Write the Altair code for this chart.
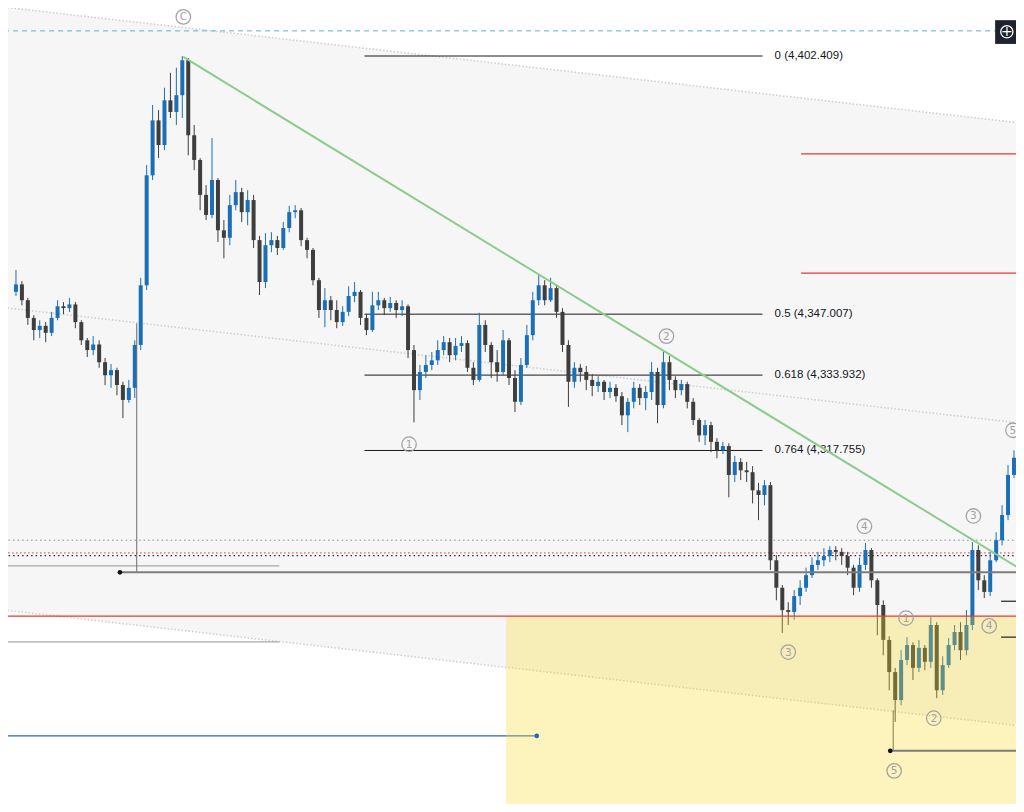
import altair as alt
import pandas as pd

# ---------------- candle data (one candle per bar) ----------------
closes = [4353.4, 4350.0, 4346.2, 4343.6, 4344.5, 4343.0, 4346.2, 4348.7, 4348.3, 4349.1,
          4345.3, 4341.4, 4339.3, 4340.5, 4336.7, 4333.9, 4335.0, 4331.8, 4328.6, 4331.2,
          4340.4, 4353.2, 4376.8, 4388.6, 4383.3, 4392.9, 4390.4, 4394.0, 4401.5, 4385.4,
          4380.1, 4372.6, 4368.3, 4375.8, 4365.0, 4363.4, 4370.4, 4373.2, 4368.9, 4371.5,
          4362.9, 4353.9, 4361.8, 4362.9, 4361.2, 4365.5, 4368.9, 4369.3, 4362.9, 4360.8,
          4354.3, 4347.9, 4350.0, 4347.9, 4345.3, 4347.5, 4350.9, 4351.8, 4346.2, 4343.6,
          4348.9, 4350.0, 4348.3, 4349.4, 4347.9, 4348.7, 4339.3, 4330.7, 4334.6, 4336.1,
          4337.1, 4339.3, 4341.0, 4338.2, 4340.2, 4340.8, 4335.5, 4332.9, 4344.7, 4340.4,
          4336.7, 4334.6, 4341.4, 4333.3, 4328.2, 4336.1, 4342.5, 4350.0, 4353.2, 4350.0,
          4352.6, 4347.5, 4340.4, 4332.5, 4335.5, 4334.6, 4332.9, 4331.6, 4332.5, 4330.3,
          4331.2, 4329.4, 4325.3, 4328.2, 4331.2, 4329.0, 4330.3, 4334.6, 4327.5, 4336.7,
          4332.9, 4330.7, 4332.0, 4328.2, 4324.3, 4321.0, 4323.2, 4319.6, 4317.8, 4318.7,
          4312.5, 4315.3, 4313.5, 4313.1, 4309.2, 4308.2, 4310.3, 4294.2, 4288.3, 4283.5,
          4283.1, 4286.5, 4288.3, 4291.0, 4293.2, 4294.2, 4295.1, 4296.4, 4296.0, 4295.1,
          4292.6, 4288.3, 4293.2, 4296.4, 4289.9, 4284.6, 4277.1, 4270.2, 4264.2, 4272.8,
          4276.0, 4271.1, 4275.4, 4272.4, 4280.3, 4266.3, 4271.7, 4276.0, 4278.8, 4274.9,
          4280.3, 4296.4, 4289.9, 4287.4, 4294.2, 4298.5, 4303.9, 4312.5, 4316.2]
highs = [4356.5, 4354.1, 4350.5, 4346.8, 4345.7, 4345.3, 4347.5, 4350.0, 4349.6, 4350.5,
         4349.6, 4345.7, 4341.9, 4342.3, 4341.4, 4337.6, 4336.3, 4335.5, 4332.5, 4332.9,
         4341.4, 4354.8, 4379.0, 4391.9, 4390.8, 4395.6, 4398.8, 4399.9, 4402.4, 4402.0,
         4387.6, 4380.5, 4374.7, 4384.8, 4376.2, 4367.2, 4372.6, 4375.8, 4374.1, 4373.6,
         4372.6, 4363.8, 4364.4, 4364.6, 4363.8, 4366.8, 4370.2, 4370.4, 4369.8, 4363.4,
         4361.2, 4354.8, 4352.6, 4350.9, 4350.0, 4348.7, 4353.0, 4353.9, 4352.2, 4347.0,
         4351.8, 4351.8, 4350.5, 4350.7, 4350.0, 4350.0, 4349.1, 4340.4, 4336.1, 4338.2,
         4338.9, 4341.4, 4342.3, 4341.9, 4341.9, 4342.3, 4341.4, 4336.7, 4347.3, 4345.7,
         4341.0, 4339.3, 4343.6, 4341.9, 4335.0, 4337.6, 4344.7, 4351.8, 4355.4, 4354.3,
         4354.8, 4353.4, 4348.3, 4341.4, 4336.7, 4336.3, 4335.9, 4334.1, 4333.7, 4332.9,
         4332.5, 4332.0, 4330.3, 4329.0, 4332.5, 4332.0, 4331.6, 4336.7, 4335.5, 4338.9,
         4338.0, 4333.7, 4332.9, 4332.5, 4329.0, 4324.7, 4324.3, 4323.9, 4320.4, 4319.6,
         4319.3, 4316.6, 4316.1, 4315.3, 4314.4, 4310.8, 4311.4, 4311.0, 4295.3, 4288.9,
         4285.2, 4287.8, 4289.9, 4292.6, 4294.8, 4296.0, 4296.8, 4297.2, 4297.2, 4296.8,
         4296.0, 4293.2, 4294.8, 4297.9, 4296.8, 4290.3, 4285.6, 4277.9, 4271.1, 4274.9,
         4277.7, 4276.6, 4277.1, 4276.0, 4282.0, 4280.9, 4273.6, 4277.5, 4280.3, 4280.9,
         4283.5, 4298.1, 4297.4, 4291.0, 4296.0, 4300.2, 4306.0, 4314.6, 4317.8]
lows = [4350.9, 4348.9, 4344.7, 4341.4, 4341.9, 4341.0, 4342.3, 4345.7, 4347.0, 4347.5,
        4344.0, 4340.4, 4337.8, 4338.2, 4335.5, 4331.8, 4331.2, 4329.6, 4324.7, 4328.0,
        4329.0, 4339.3, 4352.2, 4375.8, 4380.5, 4382.2, 4389.1, 4387.6, 4389.1, 4381.1,
        4377.9, 4369.3, 4367.2, 4367.6, 4362.5, 4359.0, 4361.8, 4369.3, 4366.8, 4366.1,
        4361.2, 4351.1, 4352.6, 4360.3, 4359.7, 4360.8, 4364.6, 4367.6, 4361.6, 4359.0,
        4353.2, 4346.2, 4344.2, 4345.7, 4344.0, 4344.5, 4346.6, 4349.6, 4344.7, 4342.5,
        4343.2, 4347.9, 4346.8, 4347.5, 4346.2, 4346.6, 4337.6, 4323.8, 4328.6, 4333.3,
        4335.0, 4336.1, 4338.2, 4336.7, 4337.1, 4338.9, 4334.6, 4331.8, 4332.5, 4338.9,
        4333.3, 4332.5, 4333.9, 4331.8, 4326.0, 4327.5, 4335.5, 4341.4, 4348.9, 4348.9,
        4349.6, 4346.2, 4338.9, 4327.1, 4331.2, 4332.5, 4330.7, 4329.4, 4330.3, 4328.6,
        4329.0, 4328.2, 4323.2, 4321.7, 4326.8, 4327.5, 4326.4, 4328.6, 4323.6, 4326.8,
        4330.7, 4329.0, 4329.6, 4326.8, 4323.2, 4319.6, 4318.9, 4317.4, 4316.1, 4317.0,
        4307.7, 4311.0, 4311.4, 4311.0, 4306.4, 4302.8, 4306.0, 4292.1, 4285.6, 4278.6,
        4280.3, 4281.4, 4284.6, 4287.4, 4290.4, 4292.1, 4292.9, 4293.8, 4294.2, 4293.2,
        4291.0, 4286.7, 4287.4, 4292.1, 4288.3, 4278.1, 4273.8, 4266.3, 4259.5, 4263.1,
        4271.7, 4268.5, 4270.2, 4270.6, 4271.1, 4264.6, 4265.3, 4271.1, 4274.9, 4272.8,
        4273.8, 4279.2, 4287.8, 4286.1, 4286.5, 4293.8, 4297.4, 4302.8, 4311.8]
first_open = 4351.8
opens = [first_open] + closes[:-1]
bars = list(range(len(closes)))

# ---------------- drawing objects ----------------
fib_levels = ["0", "0.5", "0.618", "0.764"]
fib_prices = [4402.409, 4347.007, 4333.932, 4317.755]
fib_bar_start, fib_bar_end, fib_label_bar = 58.67, 125.67, 127.7

channel_bars = [-2, 170]
channel_upper = [4412.9, 4387.9]
channel_mid = [4348.4, 4323.5]
channel_lower = [4283.5, 4258.5]

trend_bars = [28.17, 168.83]
trend_prices = [4402.2, 4292.5]

wave_labels = ["C", "1", "2", "3", "4", "1", "2", "5", "3", "4", "5"]
wave_bars = [28.17, 66.17, 109.5, 130.0, 142.83, 149.83, 154.5, 147.83, 161.17, 163.83, 167.83]
wave_prices = [4410.8, 4319.1, 4342.3, 4274.5, 4301.5, 4281.8, 4260.3, 4249.0, 4303.7, 4280.1, 4322.1]

xs = alt.Scale(domain=[-0.5, 167.5], nice=False, zero=False)
ys = alt.Scale(domain=[4241.89, 4412.71], nice=False, zero=False)


def segs(x0, x1, p0, p1, color, width, dash=None, opacity=1.0):
    df = pd.DataFrame({"x0": x0, "x1": x1, "p0": p0, "p1": p1})
    kw = dict(color=color, strokeWidth=width, clip=True, opacity=opacity)
    if dash:
        kw["strokeDash"] = dash
    return alt.Chart(df).mark_rule(**kw).encode(
        x=alt.X("x0:Q", scale=xs, axis=None),
        x2="x1:Q",
        y=alt.Y("p0:Q", scale=ys, axis=None),
        y2="p1:Q",
    )


def hlines(x0, x1, prices, color, width, dash=None, opacity=1.0):
    return segs(x0, x1, prices, prices, color, width, dash, opacity)


def dots(bx, prices, color, size=22):
    df = pd.DataFrame({"b": bx, "p": prices})
    return alt.Chart(df).mark_point(filled=True, color=color, size=size, opacity=1, clip=True).encode(
        x=alt.X("b:Q", scale=xs, axis=None), y=alt.Y("p:Q", scale=ys, axis=None))


# channel background
chan_df = pd.DataFrame({"b": channel_bars, "up": channel_upper, "lo": channel_lower})
channel_fill = alt.Chart(chan_df).mark_area(color="#f6f6f6", clip=True).encode(
    x=alt.X("b:Q", scale=xs, axis=None),
    y=alt.Y("up:Q", scale=ys, axis=None),
    y2="lo:Q",
)
chan_lines = segs([channel_bars[0]] * 3, [channel_bars[1]] * 3,
                  [channel_upper[0], channel_mid[0], channel_lower[0]],
                  [channel_upper[1], channel_mid[1], channel_lower[1]],
                  "#cfcfcf", 1.6, dash=[1.5, 2])

teal_dash = hlines([-2], [170], [4407.8], "#56b8c4", 1, dash=[5, 4])
gray_dotted = hlines([-2], [170], [4298.5], "#8a8a8a", 1, dash=[1.5, 3])
red_dotted = hlines([-2], [170], [4295.8], "#f05a5a", 1.2, dash=[1.5, 2.5])
navy_dotted = hlines([-2], [170], [4295.2], "#1e2a55", 1.2, dash=[1.5, 3])

light_gray_left = hlines([-2, -2], [44.33, 44.33], [4293.0, 4276.7], "#a8a8a8", 1.2)
fib_one = hlines([17.5], [170], [4291.605], "#7c7c7c", 2)
anchor_vert = segs([20.33], [20.33], [4345.0], [4291.605], "#6a6a6a", 1)
low_anchor = hlines([147.17], [170], [4253.3], "#7c7c7c", 2)
low_vert = segs([147.67], [147.67], [4262.0], [4253.3], "#555555", 1)
short_black = hlines([165.83, 165.83], [170, 170], [4285.4, 4277.7], "#222222", 1.2)
blue_line = hlines([-2], [87.67], [4256.5], "#2a62c9", 1.2)

red_short = hlines([132.17, 132.17], [170, 170], [4381.4, 4355.8], "#e53935", 1.2)
red_long = hlines([-2], [170], [4282.2], "#e53935", 1.3)

fib_lines = hlines([fib_bar_start] * 4, [fib_bar_end] * 4, fib_prices, "#1a1a1a", 1)
fib_df = pd.DataFrame({
    "b": [fib_label_bar] * 4,
    "p": fib_prices,
    "t": [f"{lvl} ({p:,.3f})" for lvl, p in zip(fib_levels, fib_prices)],
})
fib_text = alt.Chart(fib_df).mark_text(align="left", baseline="middle", font="Liberation Sans",
                                       fontSize=11.5, color="#131722").encode(
    x=alt.X("b:Q", scale=xs, axis=None), y=alt.Y("p:Q", scale=ys, axis=None), text="t:N")

trend = segs([trend_bars[0]], [trend_bars[1]], [trend_prices[0]], [trend_prices[1]], "#8ccb8c", 2)

# candles
cdf = pd.DataFrame({"bar": bars, "open": opens, "high": highs, "low": lows, "close": closes})
up_col, down_col = "#1b6fb6", "#3e3e3e"
col = alt.condition("datum.close >= datum.open", alt.value(up_col), alt.value(down_col))
wicks = alt.Chart(cdf).mark_rule(strokeWidth=1, clip=True).encode(
    x=alt.X("bar:Q", scale=xs, axis=None),
    y=alt.Y("low:Q", scale=ys, axis=None),
    y2="high:Q",
    color=col,
)
bodies = alt.Chart(cdf).mark_bar(size=4, clip=True).encode(
    x=alt.X("bar:Q", scale=xs, axis=None),
    y=alt.Y("open:Q", scale=ys, axis=None),
    y2="close:Q",
    color=col,
)

# yellow zone overlay
zone_df = pd.DataFrame({"b0": [82.5], "b1": [170], "p0": [4282.2], "p1": [4230.0]})
zone = alt.Chart(zone_df).mark_rect(color="#f8d726", opacity=0.3, clip=True).encode(
    x=alt.X("b0:Q", scale=xs, axis=None), x2="b1:Q",
    y=alt.Y("p0:Q", scale=ys, axis=None), y2="p1:Q")

# wave labels
wdf = pd.DataFrame({"b": wave_bars, "p": wave_prices, "t": wave_labels})
wave_circ = alt.Chart(wdf).mark_point(shape="circle", filled=False, color="#a3a3a3", strokeWidth=1.3,
                                      size=210, opacity=1).encode(
    x=alt.X("b:Q", scale=xs, axis=None), y=alt.Y("p:Q", scale=ys, axis=None))
wave_txt = alt.Chart(wdf).mark_text(font="DejaVu Sans", fontSize=10.5, color="#a3a3a3",
                                    baseline="middle", align="center", dy=0.5).encode(
    x=alt.X("b:Q", scale=xs, axis=None), y=alt.Y("p:Q", scale=ys, axis=None), text="t:N")

# top-right button
btn_df = pd.DataFrame({"b0": [164.83], "b1": [170], "p0": [4410.1], "p1": [4405.0]})
btn = alt.Chart(btn_df).mark_rect(color="#1e222d", clip=True).encode(
    x=alt.X("b0:Q", scale=xs, axis=None), x2="b1:Q",
    y=alt.Y("p0:Q", scale=ys, axis=None), y2="p1:Q")
btn_icon_df = pd.DataFrame({"b": [166.8], "p": [4407.6], "t": ["+"]})
btn_circ = alt.Chart(btn_icon_df).mark_point(shape="circle", filled=False, color="white",
                                             strokeWidth=1.3, size=150, opacity=1).encode(
    x=alt.X("b:Q", scale=xs, axis=None), y=alt.Y("p:Q", scale=ys, axis=None))
btn_txt = alt.Chart(btn_icon_df).mark_text(color="white", fontSize=14, font="DejaVu Sans",
                                           baseline="middle", align="center", dy=0).encode(
    x=alt.X("b:Q", scale=xs, axis=None), y=alt.Y("p:Q", scale=ys, axis=None), text="t:N")

chart = alt.layer(
    channel_fill, chan_lines, teal_dash, gray_dotted, red_dotted, navy_dotted,
    light_gray_left, fib_lines, fib_text, blue_line,
    wicks, bodies, anchor_vert, low_vert,
    zone, red_long, red_short, fib_one, low_anchor, short_black, trend,
    dots([17.5, 147.17], [4291.605, 4253.3], "#111111"),
    dots([87.67], [4256.5], "#2a62c9"),
    wave_circ, wave_txt, btn, btn_circ, btn_txt,
).properties(
    width=1008, height=796, padding=0, background="white",
    autosize=alt.AutoSizeParams(type="none"),
).configure_view(stroke=None)

chart.save("out.html", embed_options={"renderer": "svg", "actions": False})
